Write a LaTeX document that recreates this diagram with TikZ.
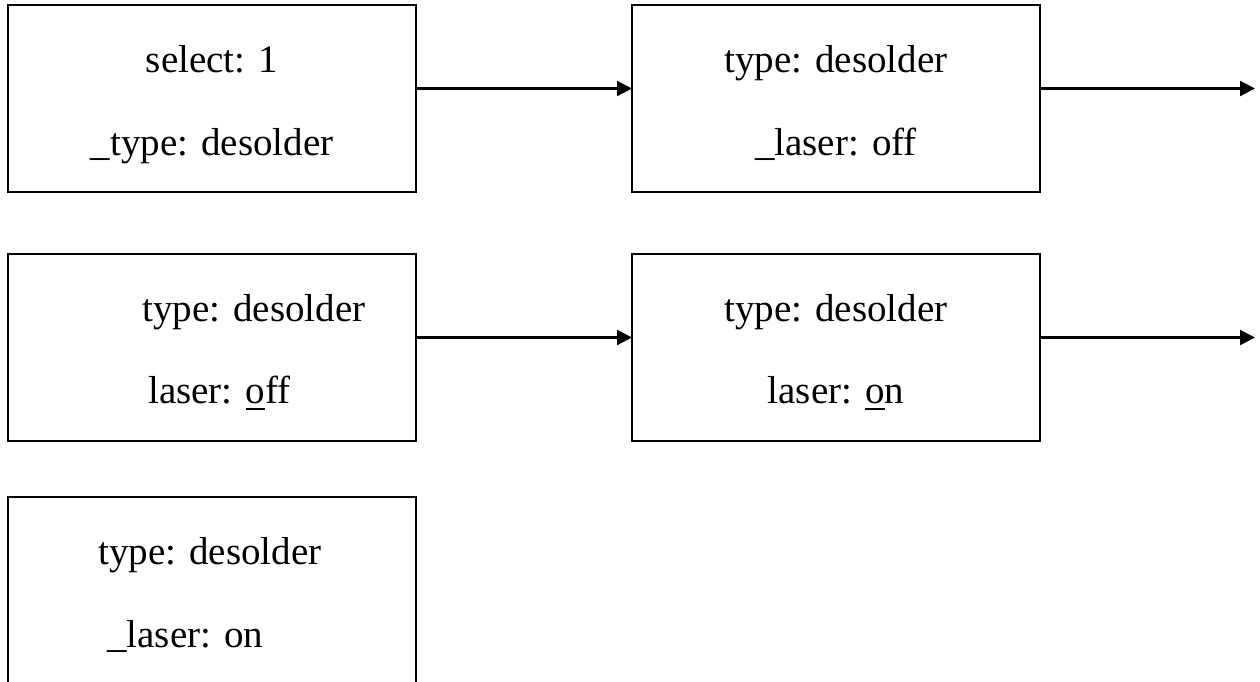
\documentclass[tikz,border=0pt]{standalone}
\usepackage{fontspec}
\setmainfont{Liberation Serif}
\usetikzlibrary{arrows.meta}
\newcommand\myul[1]{\setbox0\hbox{#1}\rlap{\rule[-0.18em]{\wd0}{0.055em}}\box0}
\begin{document}
\begin{tikzpicture}[x=1pt,y=-1pt,
  box/.style={draw, line width=2.2pt, minimum width=408pt, minimum height=187pt, inner sep=0pt, outer sep=0pt},
  lbl/.style={inner sep=0pt, font=\fontsize{39}{47}\selectfont},
  arr/.style={line width=2.2pt, -{Triangle[length=15pt,width=15pt]}}]
\clip (0,0) rectangle (1260,681);
\node[box] (b1) at (212,98.5) {};
\node[box] (b2) at (836,98.5) {};
\node[box] (b3) at (212,347.5) {};
\node[box] (b4) at (836,347.5) {};
\node[box] (b5) at (212,590.5) {};
\node[lbl, anchor=base] (t1a) at (212,72) {select: 1};
\node[lbl, anchor=base] (t1b) at (212,155) {\_type: desolder};
\node[lbl, anchor=base] (t2a) at (836,72) {type: desolder};
\node[lbl, anchor=base] (t2b) at (836,155) {\_laser: off};
\node[lbl, anchor=base west] (t3a) at (142,321) {type: desolder};
\node[lbl, anchor=base west] (t3b) at (148,403) {laser: \myul{o}ff};
\node[lbl, anchor=base] (t4a) at (836,321) {type: desolder};
\node[lbl, anchor=base] (t4b) at (836,403) {laser: \myul{o}n};
\node[lbl, anchor=base west] (t5a) at (98,564) {type: desolder};
\node[lbl, anchor=base west] (t5b) at (107,647) {\_laser: on};
\coordinate (e1) at (1255,88.5);
\coordinate (e2) at (1255,337.5);
\draw[arr] ([yshift=10pt]b1.east) -- ([yshift=10pt]b2.west);
\draw[arr] ([yshift=10pt]b2.east) -- (e1);
\draw[arr] ([yshift=10pt]b3.east) -- ([yshift=10pt]b4.west);
\draw[arr] ([yshift=10pt]b4.east) -- (e2);
\end{tikzpicture}
\end{document}
